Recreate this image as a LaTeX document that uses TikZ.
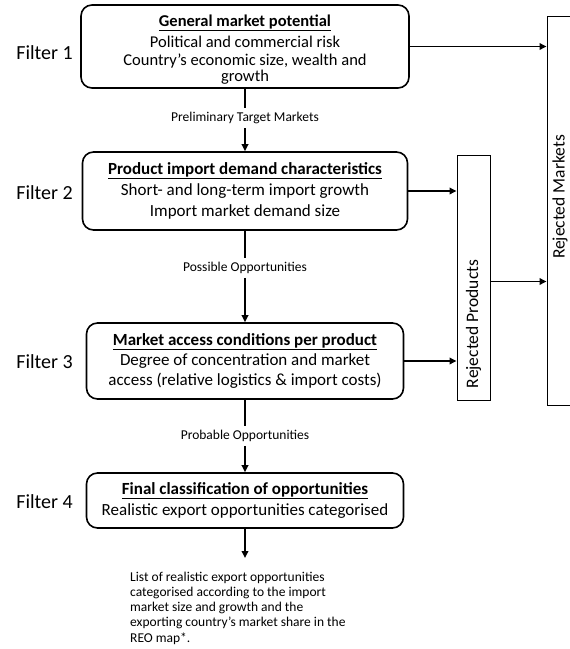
\documentclass[tikz,border=0pt]{standalone}
\usepackage{fontspec}
\setmainfont{Carlito}
\usetikzlibrary{arrows.meta}
\tikzset{
  fbox/.style={draw, line width=1.6pt, rounded corners=11pt, align=center, inner sep=0pt},
  rbox/.style={draw, line width=1pt, inner sep=0pt},
  flab/.style={anchor=east, inner sep=0pt, font=\fontsize{20}{24}\selectfont},
  clab/.style={inner sep=4pt, font=\fontsize{13.5}{15}\selectfont},
  rlab/.style={rotate=90, inner sep=0pt, font=\fontsize{17.5}{21}\selectfont},
  conn/.style={line width=1.9pt},
  arr/.style={line width=1.9pt, -{Triangle[length=7pt,width=6.5pt]}},
}
\begin{document}
\begin{tikzpicture}[x=1pt,y=-1pt]
\useasboundingbox (0,0) rectangle (570,649);
\clip (0,0) rectangle (570,649);
% filter labels
\node[flab] (f1) at (73,53) {Filter 1};
\node[flab] (f2) at (73,193) {Filter 2};
\node[flab] (f3) at (73,362) {Filter 3};
\node[flab] (f4) at (73,502) {Filter 4};
% boxes
\node[fbox, minimum width=328pt, minimum height=83pt] (b1) at (245,46.5) {};
\node[align=center, inner sep=0pt, font=\fontsize{16.5}{15.5}\selectfont] (b1t) at (245,49.5)
 {\underline{\textbf{General market potential}}\\[4pt] Political and commercial risk\\[3pt] Country’s economic size, wealth and\\ growth};
\node[fbox, minimum width=325pt, minimum height=78pt, font=\fontsize{17}{21}\selectfont] (b2) at (245,191)
 {\underline{\textbf{Product import demand characteristics}}\\ Short- and long-term import growth\\ Import market demand size};
\node[fbox, minimum width=317pt, minimum height=76pt, font=\fontsize{17}{20}\selectfont] (b3) at (245,361)
 {\underline{\textbf{Market access conditions per product}}\\ Degree of concentration and market\\ access (relative logistics \& import costs)};
\node[fbox, minimum width=317pt, minimum height=55pt, font=\fontsize{17}{21}\selectfont] (b4) at (245,500.5)
 {\underline{\textbf{Final classification of opportunities}}\\ Realistic export opportunities categorised};
% connector labels
\node[clab] (l1) at (245,118) {Preliminary Target Markets};
\node[clab] (l2) at (245,268) {Possible Opportunities};
\node[clab] (l3) at (245,436) {Probable Opportunities};
% rejected boxes
\node[rbox, minimum width=33pt, minimum height=245pt] (rp) at (473.5,277.5) {};
\node[rbox, minimum width=50pt, minimum height=389pt] (rm) at (572,210.5) {};
\node[rlab] (rpt) at (473.5,324) {Rejected Products};
\node[rlab] (rmt) at (560,197) {Rejected Markets};
% final text
\coordinate (end) at (245,558);
\node[anchor=north west, inner sep=0pt, align=left, font=\fontsize{13.5}{15.3}\selectfont] (out) at (130,571.5)
 {List of realistic export opportunities\\ categorised according to the import\\ market size and growth and the\\ exporting country’s market share in the\\ REO map*.};
% connectors
\draw[conn] (b1.south) -- (l1.north);
\draw[arr] (l1.south) -- (b2.north);
\draw[conn] (b2.south) -- (l2.north);
\draw[arr] (l2.south) -- (b3.north);
\draw[conn] (b3.south) -- (l3.north);
\draw[arr] (l3.south) -- (b4.north);
\draw[arr] (b4.south) -- (end);
\draw[arr] (b1.east) -- (b1.east -| rm.west);
\draw[arr] (b2.east) -- (b2.east -| rp.west);
\draw[arr] (b3.east) -- (b3.east -| rp.west);
\draw[arr] ([yshift=-4pt]rp.east) -- ([yshift=-4pt]rp.east -| rm.west);
\end{tikzpicture}
\end{document}
